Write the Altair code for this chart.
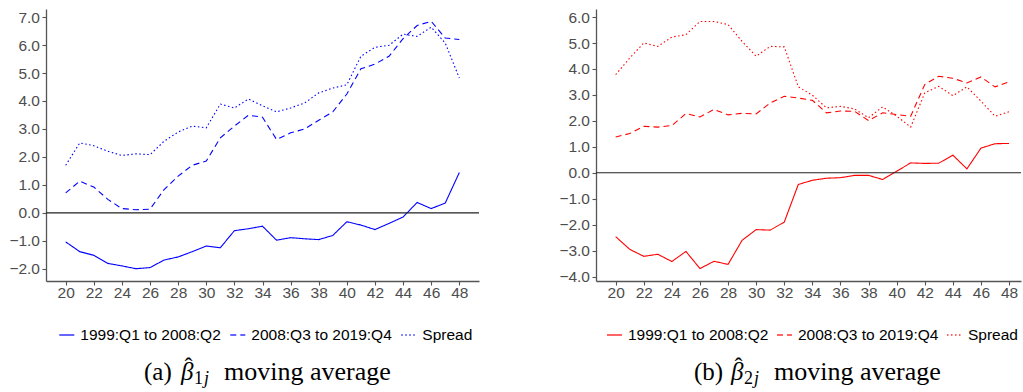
import altair as alt
import pandas as pd

# Horizon j on the x axis
horizons = list(range(20, 49))
series_names = ["1999:Q1 to 2008:Q2", "2008:Q3 to 2019:Q4", "Spread"]

# Panel (a): beta_1j moving average
b1_pre = [-1.04, -1.39, -1.52, -1.81, -1.90, -2.00, -1.96, -1.69, -1.58, -1.39,
          -1.19, -1.25, -0.64, -0.57, -0.48, -0.98, -0.89, -0.93, -0.96, -0.81,
          -0.32, -0.44, -0.60, -0.38, -0.15, 0.37, 0.15, 0.35, 1.44]
b1_post = [0.71, 1.13, 0.92, 0.48, 0.15, 0.11, 0.13, 0.83, 1.31, 1.70,
           1.85, 2.68, 3.10, 3.49, 3.42, 2.62, 2.86, 3.00, 3.31, 3.61,
           4.25, 5.15, 5.32, 5.60, 6.23, 6.70, 6.85, 6.25, 6.20]
b1_spread = [1.70, 2.50, 2.40, 2.20, 2.05, 2.11, 2.08, 2.56, 2.89, 3.10,
             3.04, 3.89, 3.75, 4.07, 3.83, 3.61, 3.75, 3.93, 4.29, 4.46,
             4.58, 5.60, 5.92, 5.99, 6.39, 6.31, 6.64, 6.07, 4.82]

# Panel (b): beta_2j moving average
b2_pre = [-2.46, -2.95, -3.22, -3.14, -3.42, -3.03, -3.69, -3.41, -3.53, -2.60,
          -2.19, -2.21, -1.90, -0.45, -0.29, -0.21, -0.19, -0.10, -0.10, -0.26,
          0.06, 0.38, 0.36, 0.37, 0.68, 0.15, 0.95, 1.12, 1.13]
b2_post = [1.38, 1.51, 1.79, 1.76, 1.82, 2.28, 2.15, 2.44, 2.23, 2.29,
           2.27, 2.69, 2.95, 2.88, 2.79, 2.31, 2.38, 2.37, 2.01, 2.31,
           2.24, 2.18, 3.40, 3.72, 3.64, 3.46, 3.69, 3.31, 3.50]
b2_spread = [3.78, 4.42, 5.00, 4.87, 5.23, 5.32, 5.83, 5.83, 5.71, 5.06,
             4.49, 4.87, 4.85, 3.31, 2.99, 2.50, 2.56, 2.46, 2.12, 2.54,
             2.18, 1.76, 3.08, 3.33, 2.97, 3.31, 2.76, 2.18, 2.35]

x_ticks = list(range(20, 49, 2))
dash_styles = [[1, 0], [6, 4], [1.5, 2.5]]

PLOT_H = 272
SERIF = "Liberation Serif"
SANS = "Liberation Sans"


def caption_piece(text, x, y, size, style="normal"):
    return alt.Chart(pd.DataFrame({"t": [text]})).mark_text(
        align="left", baseline="alphabetic", font=SERIF, fontSize=size,
        fontStyle=style, color="black"
    ).encode(x=alt.value(x), y=alt.value(y), text="t:N")


def panel(pre, post, spread, color, y_domain, y_ticks, tag, sub,
          width, x_max, legend_x, legend_gap):
    df = pd.DataFrame({
        "j": horizons * 3,
        "value": pre + post + spread,
        "series": [s for s in series_names for _ in horizons],
    })
    x = alt.X("j:Q", title=None,
              scale=alt.Scale(domain=[18.6, x_max], nice=False, zero=False),
              axis=alt.Axis(values=x_ticks, tickCount=len(x_ticks), format="d",
                            labelPadding=0.5, labelOverlap=False))
    y = alt.Y("value:Q", title=None,
              scale=alt.Scale(domain=y_domain, nice=False, zero=False),
              axis=alt.Axis(values=y_ticks, tickCount=len(y_ticks), format=".1f",
                            labelPadding=2.5, labelOverlap=False))
    lines = alt.Chart(df).mark_line(color=color, strokeWidth=1.1).encode(
        x=x, y=y,
        strokeDash=alt.StrokeDash(
            "series:N",
            scale=alt.Scale(domain=series_names, range=dash_styles),
            legend=alt.Legend(
                orient="none", legendX=legend_x, legendY=317.5,
                direction="horizontal",
                title=None, symbolType="stroke", symbolStrokeColor=color,
                symbolSize=225, symbolStrokeWidth=2, symbolOpacity=0.6,
                labelFont=SANS, labelFontSize=15.5, labelColor="black",
                labelOffset=5, columnPadding=legend_gap, padding=0,
            ),
        ),
    )
    zero = alt.Chart(pd.DataFrame({"z": [0]})).mark_rule(
        color="#222222", strokeWidth=1.2
    ).encode(y="z:Q")

    caption = [
        caption_piece(tag, 98, 371, 25),
        caption_piece("β", 135, 371, 25, "italic"),
        caption_piece("ˆ", 138.5, 364.5, 24),
        caption_piece(sub[0], 148, 375, 18),
        caption_piece(sub[1], 158, 375, 18, "italic"),
        caption_piece("moving average", 178, 371, 26),
    ]
    return alt.layer(lines, zero, *caption).properties(width=width, height=PLOT_H)


left = panel(b1_pre, b1_post, b1_spread, "blue", [-2.44, 7.29],
             list(range(-2, 8)), "(a)", "1j", 433, 49.4, 12.3, 5)
right = panel(b2_pre, b2_post, b2_spread, "red", [-4.17, 6.31],
              list(range(-4, 7)), "(b)", "2j", 425, 48.85, 10, 4)

chart = alt.hconcat(left, right, spacing=78).resolve_scale(
    strokeDash="independent"
).resolve_legend(strokeDash="independent").properties(
    padding={"left": 8, "top": 9, "right": 0, "bottom": 0}
).configure_view(stroke=None).configure_axis(
    grid=False, labelFont=SANS, labelFontSize=15.5, labelColor="#4D4D4D",
    domainColor="#555555", domainWidth=1.3, tickColor="#555555",
    tickSize=4, tickWidth=1.1,
)

chart.save("out.html", embed_options={"renderer": "svg", "actions": False})
